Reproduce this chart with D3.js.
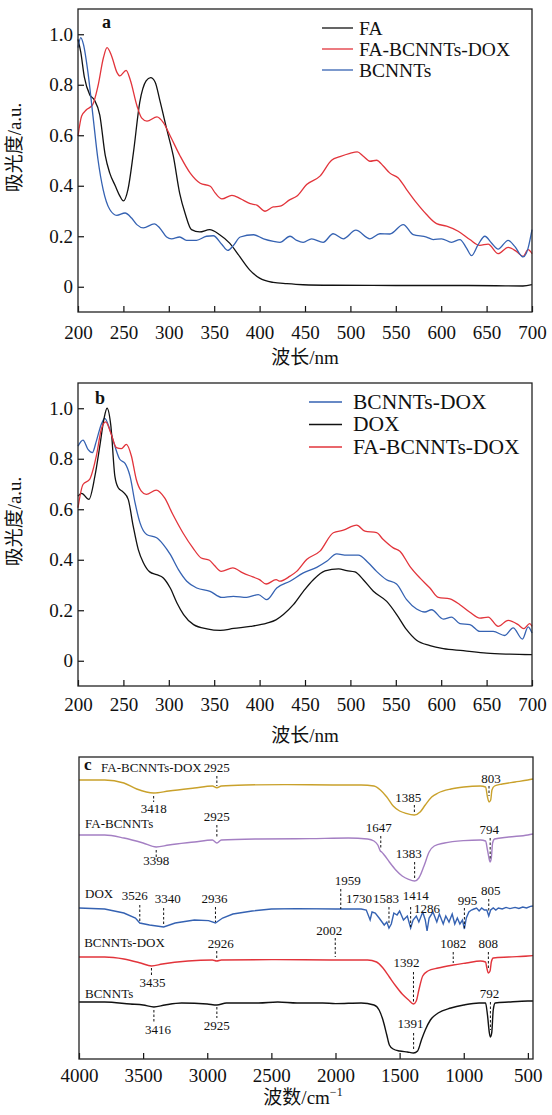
<!DOCTYPE html>
<html><head><meta charset="utf-8">
<script src="https://cdn.jsdelivr.net/npm/d3@7"></script>
<style>
body{margin:0;background:#fff;}
text{font-family:"Liberation Serif","Times New Roman","Noto Sans CJK SC",serif;fill:#111;}
</style></head>
<body><svg id="c" width="552" height="1115"></svg>
<script>
// ---------- Panel a ----------
const aFA = [[200,0.98],[203,0.93],[207,0.83],[213,0.76],[218,0.74],[224,0.68],[230,0.52],[235,0.45],[241,0.40],[246,0.36],[250,0.34],[255,0.385],[261,0.53],[268,0.73],[275,0.815],[280,0.828],[285,0.81],[290,0.74],[298,0.62],[305,0.517],[312,0.37],[318,0.29],[325,0.226],[334,0.217],[345,0.226],[356,0.206],[367,0.173],[378,0.12],[389,0.067],[400,0.034],[415,0.017],[430,0.012],[448,0.008],[480,0.006],[550,0.005],[620,0.005],[660,0.004],[690,0.003],[700,0.008]];
const aFABD = [[200,0.597],[204,0.676],[209,0.70],[216,0.72],[222,0.795],[228,0.907],[232,0.947],[237,0.914],[243,0.848],[246,0.835],[253,0.857],[257.5,0.82],[265,0.716],[270,0.669],[276,0.656],[287,0.673],[294,0.65],[301.6,0.597],[312.6,0.517],[323.6,0.45],[334.6,0.41],[345.7,0.398],[351,0.372],[358.5,0.348],[369.5,0.362],[378.7,0.349],[389.7,0.329],[397,0.323],[406,0.299],[415,0.316],[422.5,0.319],[433.5,0.345],[440.8,0.358],[451.8,0.405],[466.5,0.438],[479.3,0.501],[488.5,0.515],[499.5,0.528],[507.6,0.534],[514.2,0.517],[521.5,0.497],[528.8,0.501],[536.2,0.478],[543.5,0.45],[552.7,0.431],[561.9,0.385],[572.9,0.332],[583.9,0.286],[594.9,0.25],[605.9,0.24],[618.7,0.22],[631.5,0.187],[642.5,0.164],[651.7,0.169],[662.7,0.131],[673.7,0.156],[682.8,0.14],[690.2,0.12],[695.7,0.147],[700,0.131]];
const aBC = [[200,0.947],[203,0.987],[206,0.96],[211,0.848],[216.5,0.676],[222,0.504],[227.7,0.385],[235,0.306],[242.7,0.283],[251.8,0.292],[259,0.272],[264.8,0.246],[272,0.233],[284,0.249],[290,0.233],[297.6,0.197],[303,0.19],[312,0.197],[319.5,0.184],[330.5,0.184],[341.5,0.2],[349,0.202],[358.5,0.167],[365,0.144],[371,0.163],[378.7,0.197],[393.4,0.206],[404.4,0.19],[415.3,0.18],[422.5,0.176],[433.5,0.2],[440.8,0.184],[448,0.176],[457.3,0.19],[470,0.176],[481,0.21],[492.2,0.19],[506,0.224],[521.5,0.19],[532.5,0.21],[543.5,0.209],[558.2,0.246],[569.2,0.206],[583.9,0.197],[591.2,0.187],[600.4,0.19],[611.4,0.176],[620.6,0.187],[627.9,0.153],[633.4,0.123],[640.7,0.167],[648.1,0.2],[655.4,0.173],[662.7,0.149],[673.7,0.184],[681,0.16],[690.2,0.118],[695.7,0.153],[700,0.226]];
const legendA = ["FA","FA-BCNNTs-DOX","BCNNTs"];

// ---------- Panel b ----------
const bBD = [[200,0.85],[205.5,0.874],[211,0.837],[215.8,0.824],[220.2,0.87],[225.7,0.937],[229.4,0.96],[235,0.917],[240.6,0.85],[246,0.798],[251.8,0.782],[257.3,0.731],[262.8,0.626],[268.3,0.546],[275.6,0.5],[286.6,0.487],[294,0.46],[301.6,0.421],[310.6,0.361],[319.8,0.315],[330.8,0.288],[345.5,0.275],[358.3,0.251],[371.1,0.255],[385.8,0.251],[398.6,0.262],[407.8,0.242],[418.9,0.288],[433.5,0.315],[448.2,0.348],[462.9,0.37],[473.9,0.394],[484.9,0.423],[495.9,0.418],[508.7,0.418],[519.7,0.388],[528.8,0.354],[539.8,0.321],[550.8,0.304],[561.9,0.242],[572.9,0.205],[582,0.193],[589.4,0.202],[602.3,0.165],[611.4,0.173],[620.6,0.147],[631.6,0.143],[642.6,0.116],[657.3,0.116],[670,0.1],[679.2,0.13],[689.5,0.086],[695.7,0.134],[700,0.11]];
const bDOX = [[200,0.652],[204,0.663],[212,0.639],[218.6,0.731],[224,0.85],[228.5,0.956],[232,1.0],[236.2,0.93],[240.6,0.731],[244.3,0.685],[249.8,0.668],[255.3,0.639],[260.8,0.533],[266.4,0.44],[272,0.388],[279,0.352],[286.6,0.341],[294,0.328],[301.6,0.288],[309,0.229],[316.3,0.183],[327.3,0.143],[342,0.126],[356.8,0.12],[371.4,0.128],[389.8,0.136],[408,0.149],[418,0.162],[426.2,0.183],[437.2,0.222],[448.2,0.275],[459.2,0.321],[472,0.356],[487,0.364],[495.9,0.357],[505,0.352],[514.2,0.321],[525.3,0.275],[540,0.235],[551,0.183],[561.9,0.123],[572.9,0.081],[587.6,0.06],[602.3,0.048],[624.3,0.04],[650,0.03],[675.6,0.026],[700,0.024]];
const bFABD = [[200,0.606],[205.5,0.698],[212.8,0.718],[220.2,0.811],[225.7,0.917],[230.5,0.946],[236,0.903],[242.3,0.844],[247.8,0.84],[253.3,0.857],[258.8,0.811],[264.2,0.718],[269.7,0.672],[275.2,0.659],[286.2,0.676],[295.4,0.645],[304.5,0.579],[315.5,0.507],[326.5,0.447],[335.7,0.407],[344.8,0.398],[350.3,0.377],[357.7,0.354],[370.5,0.368],[381.5,0.348],[392.5,0.332],[399.9,0.321],[407.2,0.304],[418.2,0.321],[422.5,0.315],[433.5,0.335],[440.8,0.354],[451.8,0.401],[466.5,0.434],[481.2,0.507],[492.2,0.517],[506.9,0.537],[516,0.513],[528.8,0.507],[536.2,0.48],[547.2,0.447],[554.5,0.434],[565.5,0.374],[576.5,0.328],[587.6,0.288],[596.8,0.251],[609.6,0.245],[620.6,0.222],[631.6,0.192],[642.6,0.169],[651.7,0.173],[662.7,0.136],[673.7,0.16],[684.7,0.143],[690.9,0.127],[697.5,0.147],[700,0.136]];
const legendB = ["BCNNTs-DOX","DOX","FA-BCNNTs-DOX"];

const uvTicksX = [200,250,300,350,400,450,500,550,600,650,700];
const uvTicksY = [0,0.2,0.4,0.6,0.8,1.0];

// ---------- Panel c (FTIR, arbitrary transmittance units) ----------
const cFABD = [[4000,139.5],[3800,139.5],[3650,138],[3550,135],[3418,133],[3300,134],[3100,135.5],[2960,136.5],[2925,135.6],[2890,136.5],[2700,137],[2400,137.2],[2000,137],[1800,137],[1700,136.5],[1650,134.5],[1600,131],[1550,126.5],[1500,124],[1450,122.8],[1385,122],[1340,123.5],[1300,127],[1250,131],[1200,133],[1100,135],[1000,136],[870,136.5],[830,136],[815,131],[803,128.5],[790,129.5],[780,134.5],[760,136.5],[700,137.5],[600,138.5],[500,139.5],[460,140]];
const cFAB = [[4000,112],[3800,112],[3650,110.5],[3500,108],[3398,106],[3300,107],[3100,108.5],[2960,109.5],[2925,108],[2890,109.5],[2600,110],[2200,110.2],[1900,110.5],[1750,110],[1700,109],[1670,107],[1650,104],[1640,103.5],[1620,102],[1580,98.5],[1530,94.5],[1480,91.5],[1430,89.8],[1383,89],[1350,90.5],[1310,96.5],[1270,103.5],[1230,106.5],[1150,108],[1000,109.2],[870,109.5],[830,109],[815,104.5],[800,99.5],[794,98.5],[785,100.5],[775,108],[760,110],[650,111],[500,112],[460,112.5]];
const cDOX = [[4000,75.5],[3800,75],[3650,73],[3560,70.5],[3526,68],[3450,67],[3340,66],[3250,68],[3100,69.5],[2990,69.2],[2936,68],[2880,70.5],[2800,72.5],[2650,74],[2500,75],[2300,75.2],[2000,75],[1800,75],[1760,74.5],[1730,69.5],[1715,73.5],[1690,73],[1660,70.5],[1620,67],[1600,68.5],[1583,65.5],[1565,67.5],[1545,73],[1520,72],[1500,74],[1470,69.5],[1440,71.5],[1414,65.5],[1395,69.5],[1370,71.5],[1350,68.5],[1320,73.5],[1300,69.5],[1286,64],[1270,70.5],[1240,73.5],[1210,68.5],[1190,72.5],[1160,67.5],[1140,71.5],[1115,68.5],[1090,72.5],[1070,67.5],[1050,70.5],[1030,67.5],[1010,69.5],[995,65],[980,70.5],[960,73.5],[940,74.5],[920,75],[900,75.5],[880,74],[860,75.5],[840,74.5],[820,74.5],[805,71.5],[790,74.5],[770,75.5],[750,74.5],[730,75.5],[700,75],[670,75.8],[640,75.2],[600,75.8],[570,75.3],[540,76],[510,75.5],[480,76.3],[460,76.5]];
const cBD = [[4000,51],[3800,51],[3650,50],[3520,48],[3435,46.5],[3350,47.5],[3150,49],[2960,49.5],[2926,49],[2890,49.5],[2500,49.7],[2000,49.5],[1750,49.5],[1680,48.5],[1630,45.5],[1580,41],[1530,36.5],[1480,32.5],[1430,29.5],[1392,27.5],[1370,29],[1350,34.5],[1320,41.5],[1280,44],[1200,45.5],[1082,47],[980,48],[870,49],[830,48.5],[820,45.5],[808,43],[795,44],[785,48.5],[770,50.5],[650,51],[500,51.5],[460,51.7]];
const cBC = [[4000,28.5],[3800,28.5],[3600,27.5],[3500,27],[3416,26],[3330,27],[3200,28],[3000,27.5],[2925,27],[2850,28],[2600,28],[2450,28.5],[2300,28],[2100,28],[2000,27.7],[1800,28],[1700,27],[1660,24.5],[1630,19.5],[1600,12],[1580,7],[1550,5],[1500,4],[1440,3.5],[1391,3],[1360,4],[1330,9.5],[1300,14.5],[1260,19.5],[1200,23],[1100,25.5],[1000,27],[880,28],[830,28],[815,22],[800,13],[792,11],[782,13],[770,24.5],[755,28],[650,28.5],[500,29],[460,29]];
const irNames = ["FA-BCNNTs-DOX","FA-BCNNTs","DOX","BCNNTs-DOX","BCNNTs"];
const irNamePos = [[3828,143.5],[3953,115.5],[3953,80.5],[3960,56],[3953,30.5]];
// [wavenumber, label, label baseline value, dash top, dash bottom, label dx]
const annFABD = [[2925,"2925",143.5,141.5,136.5,0],[3418,"3418",123,131.5,128.5,0],[1385,"1385",128.5,127,123,-6],[803,"803",138,136.5,131.5,2]];
const annFAB = [[2925,"2925",119,117,110.5,0],[3398,"3398",97,104.5,101,0],[1647,"1647",113.5,111.5,105,-2],[1383,"1383",100.5,98.5,90,-6],[794,"794",112.5,110.5,99.5,-1]];
const annDOX = [[3526,"3526",79.5,77,69,-5],[3340,"3340",78,75.5,66.5,4],[2936,"2936",78,76,68.5,-1],[1959,"1959",87,85,75,7],[1730,"1730",78,null,null,-11],[1583,"1583",78,76,67,-3],[1414,"1414",79.5,76,66,5],[1286,"1286",73,null,null,0],[995,"995",77,75.5,65.5,3],[805,"805",82,80,73.5,2]];
const annBD = [[2926,"2926",55.5,54,50,4],[3435,"3435",36,45.5,41.5,1],[2002,"2002",62,60.5,51,-6],[1392,"1392",46,43.5,28.5,-7],[1082,"1082",55.5,53.5,48,0],[808,"808",55.5,53.5,44.5,0]];
const annBC = [[3416,"3416",12.5,24.5,18.5,4],[2925,"2925",14.5,26,20.5,0],[1391,"1391",15.5,13,4.5,-3],[792,"792",30.5,28.5,14.5,-1]];
const irTicksX = [4000,3500,3000,2500,2000,1500,1000,500];

const RED="#e2343b", BLUE="#3562b2", BLACK="#111111", GOLD="#c9a12b", PURPLE="#a47fc3";
const svg = d3.select("#c");
const FS = 19;

function uvPanel(top, bottom, series, colors, names, legendX, legendY, legendDy, legendFs, letter, letterPos, tickPad, titleDy){
  const x = d3.scaleLinear().domain([200,700]).range([78,532]);
  const y = d3.scaleLinear().domain([-0.1,1.1]).range([bottom, top]);
  const g = svg.append("g");
  const line = d3.line().x(d=>x(d[0])).y(d=>y(d[1])).curve(d3.curveMonotoneX);
  series.forEach((s,i)=>{
    g.append("path").attr("d", line(s)).attr("fill","none").attr("stroke",colors[i]).attr("stroke-width",1.3);
  });
  const ax = g.append("g").attr("transform",`translate(0,${bottom})`)
    .call(d3.axisBottom(x).tickValues(uvTicksX).tickSize(-6).tickPadding(tickPad).tickFormat(d3.format("d")));
  const ay = g.append("g").attr("transform",`translate(78,0)`)
    .call(d3.axisLeft(y).tickValues(uvTicksY).tickSize(-6).tickPadding(5).tickFormat(d=>d===0?"0":d.toFixed(1)));
  [ax,ay].forEach(a=>{a.select(".domain").remove(); a.selectAll("line").attr("stroke","#111").attr("stroke-width",1.2);
    a.selectAll("text").attr("font-size",FS).attr("font-family",'"Liberation Serif","Times New Roman",serif').attr("fill","#111");});
  g.append("rect").attr("x",78).attr("y",top).attr("width",454).attr("height",bottom-top)
    .attr("fill","none").attr("stroke","#222").attr("stroke-width",1.3);
  g.append("text").text(letter).attr("x",letterPos[0]).attr("y",letterPos[1]).attr("font-weight","bold").attr("font-size",18);
  names.forEach((n,i)=>{
    const yy = legendY + i*legendDy;
    g.append("line").attr("x1",legendX[0]).attr("x2",legendX[1]).attr("y1",yy).attr("y2",yy).attr("stroke",colors[i]).attr("stroke-width",1.3);
    g.append("text").text(n).attr("x",legendX[2]).attr("y",yy+6.5).attr("font-size",legendFs);
  });
  g.append("text").attr("transform",`translate(21,${(top+bottom)/2-13}) rotate(-90)`).attr("text-anchor","middle").attr("font-size",19).text("吸光度/a.u.");
  g.append("text").attr("x",305).attr("y",bottom+titleDy).attr("text-anchor","middle").attr("font-size",19).text("波长/nm");
}

uvPanel(9, 312, [aFA,aFABD,aBC], [BLACK,RED,BLUE], legendA, [322,353,359], 28, 21, 19.5, "a", [102,28], 14, 52);
uvPanel(383, 686, [bBD,bDOX,bFABD], [BLUE,BLACK,RED], legendB, [309,342,353], 402, 22.5, 21.5, "b", [95,404], 12, 56);

// Panel c
(function(){
  const top=757, bottom=1059;
  const x = d3.scaleLinear().domain([4000,460]).range([79,533]);
  const y = d3.scaleLinear().domain([0,151]).range([bottom, top]);
  const g = svg.append("g");
  const series=[cFABD,cFAB,cDOX,cBD,cBC], colors=[GOLD,PURPLE,BLUE,RED,BLACK], anns=[annFABD,annFAB,annDOX,annBD,annBC];
  series.forEach((s,i)=>{
    const line = d3.line().x(d=>x(d[0])).y(d=>y(d[1])).curve(i===2?d3.curveLinear:d3.curveMonotoneX);
    g.append("path").attr("d", line(s)).attr("fill","none").attr("stroke",colors[i]).attr("stroke-width",1.4);
  });
  anns.forEach(list=>list.forEach(a=>{
    if(a[3]!==null){
      g.append("line").attr("x1",x(a[0])).attr("x2",x(a[0])).attr("y1",y(a[3])).attr("y2",y(a[4]))
        .attr("stroke","#111").attr("stroke-width",1).attr("stroke-dasharray","2.5,2");
    }
    g.append("text").text(a[1]).attr("x",x(a[0])+a[5]).attr("y",y(a[2])).attr("text-anchor","middle").attr("font-size",13);
  }));
  irNames.forEach((n,i)=>{
    g.append("text").text(n).attr("x",x(irNamePos[i][0])).attr("y",y(irNamePos[i][1])).attr("font-size",13);
  });
  g.append("text").text("c").attr("x",84).attr("y",770).attr("font-weight","bold").attr("font-size",17);
  const ax = g.append("g").attr("transform",`translate(0,${bottom})`)
    .call(d3.axisBottom(x).tickValues(irTicksX).tickSize(-6).tickPadding(10).tickFormat(d3.format("d")));
  ax.select(".domain").remove();
  ax.selectAll("line").attr("stroke","#111").attr("stroke-width",1.2);
  ax.selectAll("text").attr("font-size",FS).attr("font-family",'"Liberation Serif","Times New Roman",serif').attr("fill","#111");
  g.append("rect").attr("x",79).attr("y",top).attr("width",454).attr("height",bottom-top)
    .attr("fill","none").attr("stroke","#222").attr("stroke-width",1.3);
  const t = g.append("text").attr("x",303).attr("y",1104).attr("text-anchor","middle").attr("font-size",19);
  t.append("tspan").text("波数/cm");
  t.append("tspan").text("−1").attr("font-size",12).attr("dy",-8);
})();
</script></body></html>
